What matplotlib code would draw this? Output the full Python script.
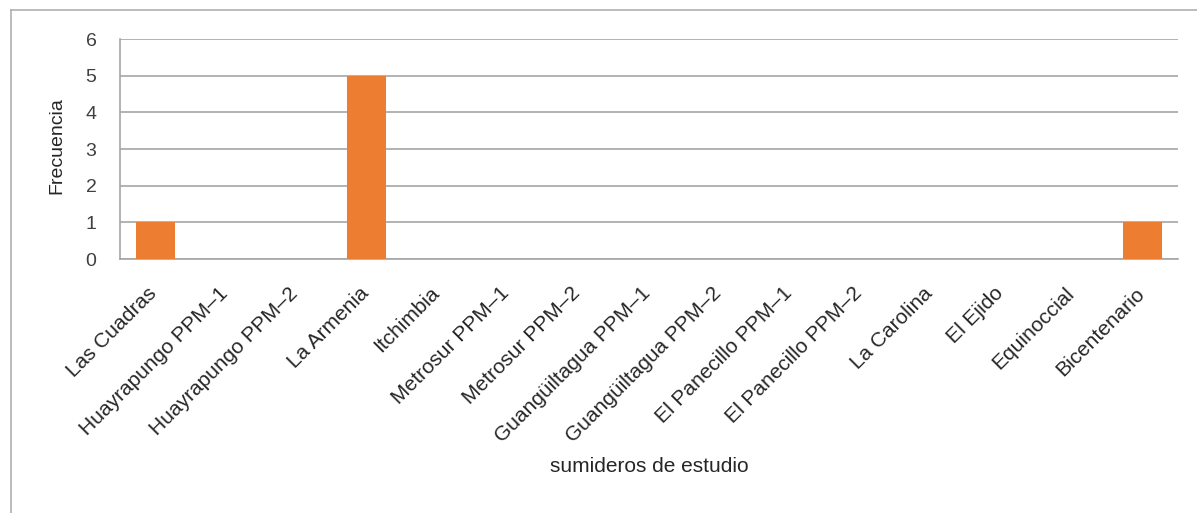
import matplotlib
matplotlib.use("Agg")
import matplotlib.pyplot as plt
from matplotlib.lines import Line2D
from matplotlib.transforms import ScaledTranslation

categories = ["Las Cuadras", "Huayrapungo PPM\u20131", "Huayrapungo PPM\u20132", "La Armenia",
              "Itchimbia", "Metrosur PPM\u20131", "Metrosur PPM\u20132", "Guangüiltagua PPM\u20131",
              "Guangüiltagua PPM\u20132", "El Panecillo PPM\u20131", "El Panecillo PPM\u20132",
              "La Carolina", "El Ejido", "Equinoccial", "Bicentenario"]
values = [1, 0, 0, 5, 0, 0, 0, 0, 0, 0, 0, 0, 0, 0, 1]
yticks = [0, 1, 2, 3, 4, 5, 6]

plt.rcParams['font.family'] = ['Liberation Sans', 'DejaVu Sans']
TXT = '#262626'
W, H = 1197, 513
fig = plt.figure(figsize=(W / 100, H / 100), dpi=100)
ax = fig.add_axes([120 / W, 1 - 259 / H, (1178 - 120) / W, (259 - 39) / H])

# outer chart frame (top and left edges visible)
fig.add_artist(Line2D([11 / W, 1.0], [1 - 10 / H, 1 - 10 / H], transform=fig.transFigure,
                      color='#b0b0b0', linewidth=1.2))
fig.add_artist(Line2D([11 / W, 11 / W], [0.0, 1 - 10 / H], transform=fig.transFigure,
                      color='#b0b0b0', linewidth=1.2))

x = list(range(len(categories)))
ax.bar(x, values, width=0.55, color='#ED7D31', zorder=3)
ax.set_xlim(-0.5, len(categories) - 0.5)
ax.set_ylim(0, 6)
ax.set_yticks(yticks)
ax.set_yticklabels([str(v) for v in yticks], fontsize=14, color='#404040')
ax.set_xticks(x)
ax.set_xticklabels(categories, rotation=45, ha='right', rotation_mode='anchor',
                   fontsize=15, color=TXT)
ax.tick_params(axis='both', length=0)
ax.tick_params(axis='y', pad=17)
ax.tick_params(axis='x', pad=12)
off = ScaledTranslation(-8 / 100, -8 / 100, fig.dpi_scale_trans)
for lab in ax.get_xticklabels():
    lab.set_transform(lab.get_transform() + off)
ax.grid(axis='y', color='#a6a6a6', linewidth=1.2, zorder=0)
for s in ['top', 'right']:
    ax.spines[s].set_visible(False)
for s in ['left', 'bottom']:
    ax.spines[s].set_color('#a6a6a6')
    ax.spines[s].set_linewidth(1.2)
ax.set_ylabel('Frecuencia', fontsize=14, color=TXT)
ax.yaxis.set_label_coords(-(120 - 65) / (1178 - 120), 0.5 + (148 - 145) / 220)
fig.text(649 / W, 1 - 467 / H, 'sumideros de estudio', ha='center', va='center',
         fontsize=15, color=TXT)

fig.savefig('out.png', dpi=100)
